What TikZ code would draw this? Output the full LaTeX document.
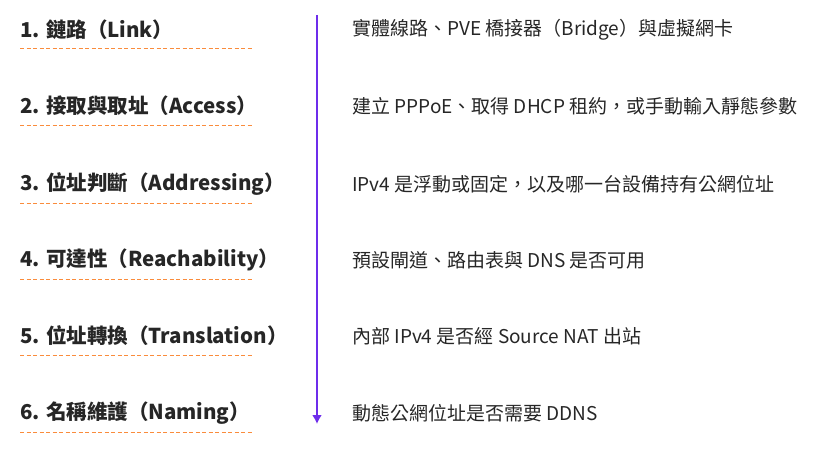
\documentclass[tikz,border=0pt]{standalone}
\usepackage{fontspec}
\usetikzlibrary{arrows.meta}
\setmainfont{Noto Sans CJK TC}
\begin{document}
\begin{tikzpicture}[x=1pt,y=-1pt,
  lab/.style={anchor=west,inner sep=0pt,font=\fontsize{20.5}{22}\selectfont\bfseries,text=black!85},
  desc/.style={anchor=west,inner sep=0pt,font=\fontsize{19}{21}\selectfont,text=black!85},
  uline/.style={draw={rgb,255:red,250;green,140;blue,60},line width=1pt,dash pattern=on 4pt off 2.5pt}]
\useasboundingbox (0,0) rectangle (835,460);
\foreach \i/\y/\l/\d in {
 1/30/{1. 鏈路（Link）}/{實體線路、PVE 橋接器（Bridge）與虛擬網卡},
 2/106/{2. 接取與取址（Access）}/{建立 PPPoE、取得 DHCP 租約，或手動輸入靜態參數},
 3/184/{3. 位址判斷（Addressing）}/{IPv4 是浮動或固定，以及哪一台設備持有公網位址},
 4/260/{4. 可達性（Reachability）}/{預設閘道、路由表與 DNS 是否可用},
 5/336/{5. 位址轉換（Translation）}/{內部 IPv4 是否經 Source NAT 出站},
 6/413/{6. 名稱維護（Naming）}/{動態公網位址是否需要 DDNS}}{
 \node[lab] (l\i) at (20,\y) {\l};
 \node[desc] (d\i) at (352,\y) {\d};
 \coordinate (a\i) at (20,\y+19);
 \coordinate (b\i) at (253,\y+19);
 \draw[uline] (a\i) -- (b\i);
}
\coordinate (top) at (317,15);
\coordinate (bot) at (317,424);
\draw[draw={rgb,255:red,110;green,45;blue,235},line width=2pt,-{Latex[length=9pt,width=10pt]}] (top) -- (bot);
\end{tikzpicture}
\end{document}
